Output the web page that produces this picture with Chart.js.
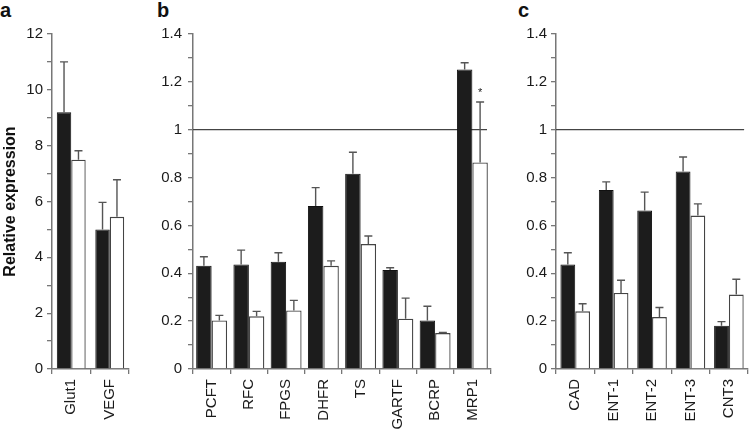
<!DOCTYPE html>
<html>
<head>
<meta charset="utf-8">
<script src="https://cdn.jsdelivr.net/npm/chart.js@4.4.1/dist/chart.umd.min.js"></script>
<style>
  body { margin: 0; background: #fff; width: 752px; height: 437px; position: relative; overflow: hidden;
         font-family: "Liberation Sans", Arial, sans-serif; }
  canvas { position: absolute; top: 0; }
  .tag { position: absolute; top: 0; font-weight: bold; font-size: 20px; line-height: 1; color: #111; }
</style>
</head>
<body>
<div class="tag" style="left:0">a</div>
<div class="tag" style="left:157px">b</div>
<div class="tag" style="left:518px">c</div>
<canvas id="chart-a" width="140" height="437" style="left:0"></canvas>
<canvas id="chart-b" width="360" height="437" style="left:140px"></canvas>
<canvas id="chart-c" width="252" height="437" style="left:500px"></canvas>
<script>
  // panel a
  const aLabels = ['Glut1', 'VEGF'];
  const aBlack = [9.2, 5.0];
  const aBlackErr = [1.8, 0.97];
  const aWhite = [7.5, 5.45];
  const aWhiteErr = [0.32, 1.33];

  // panel b
  const bLabels = ['PCFT', 'RFC', 'FPGS', 'DHFR', 'TS', 'GARTF', 'BCRP', 'MRP1'];
  const bBlack = [0.431, 0.437, 0.448, 0.681, 0.816, 0.414, 0.203, 1.252];
  const bBlackErr = [0.038, 0.06, 0.038, 0.077, 0.09, 0.009, 0.059, 0.028];
  const bWhite = [0.203, 0.22, 0.245, 0.431, 0.522, 0.21, 0.15, 0.863];
  const bWhiteErr = [0.021, 0.021, 0.042, 0.021, 0.034, 0.086, 0.003, 0.253];
  const bWhiteMarks = ['', '', '', '', '', '', '', '*'];

  // panel c
  const cLabels = ['CAD', 'ENT-1', 'ENT-2', 'ENT-3', 'CNT3'];
  const cBlack = [0.437, 0.748, 0.662, 0.825, 0.181];
  const cBlackErr = [0.049, 0.034, 0.077, 0.061, 0.017];
  const cWhite = [0.241, 0.318, 0.217, 0.641, 0.311];
  const cWhiteErr = [0.032, 0.053, 0.04, 0.049, 0.064];

  const AXIS_COLOR = '#777';
  const TEXT_COLOR = '#1a1a1a';

  Chart.defaults.font.family = '"Liberation Sans", Arial, sans-serif';
  Chart.defaults.font.size = 15;
  Chart.defaults.color = TEXT_COLOR;

  const errorBars = {
    id: 'errorBars',
    afterDatasetsDraw(chart) {
      const ctx = chart.ctx;
      const y = chart.scales.y;
      ctx.save();
      ctx.strokeStyle = '#555';
      ctx.lineWidth = 1.4;
      chart.data.datasets.forEach((ds, i) => {
        chart.getDatasetMeta(i).data.forEach((bar, j) => {
          const top = y.getPixelForValue(ds.data[j] + ds.errors[j]);
          ctx.beginPath();
          ctx.moveTo(bar.x, bar.y);
          ctx.lineTo(bar.x, top);
          ctx.moveTo(bar.x - 4, top);
          ctx.lineTo(bar.x + 4, top);
          ctx.stroke();
          if (ds.marks && ds.marks[j]) {
            ctx.fillStyle = TEXT_COLOR;
            ctx.font = '11px "Liberation Sans", Arial, sans-serif';
            ctx.textAlign = 'center';
            ctx.fillText(ds.marks[j], bar.x, top - 6);
          }
        });
      });
      ctx.restore();
    }
  };

  const refLine = {
    id: 'refLine',
    beforeDatasetsDraw(chart, args, opts) {
      const {ctx, chartArea} = chart;
      const py = chart.scales.y.getPixelForValue(opts.value);
      ctx.save();
      ctx.strokeStyle = '#444';
      ctx.lineWidth = 1.2;
      ctx.beginPath();
      ctx.moveTo(chartArea.left, py);
      ctx.lineTo(chartArea.right - 4, py);
      ctx.stroke();
      ctx.restore();
    }
  };

  function formatTick(v) {
    return String(Math.round(v * 10) / 10);
  }

  function drawPanel(id, panel) {
    const yScale = {
      min: 0,
      max: panel.max,
      ticks: {
        stepSize: panel.step,
        maxTicksLimit: 30,
        autoSkip: false,
        padding: panel.tickPadding,
        callback: (v, i) => (i % 2 ? '' : formatTick(v))
      },
      grid: { drawOnChartArea: false, drawTicks: true, tickLength: 5, color: AXIS_COLOR, lineWidth: 1.3 },
      border: { display: true, color: AXIS_COLOR, width: 1.5 },
      afterFit: s => { s.width = panel.yWidth; }
    };
    if (panel.title) {
      yScale.title = {
        display: true,
        text: panel.title,
        color: '#111',
        font: { size: 16, weight: 'bold' },
        padding: { top: 1, bottom: 0 }
      };
    }

    new Chart(document.getElementById(id), {
      type: 'bar',
      data: {
        labels: panel.labels,
        datasets: [
          {
            data: panel.black,
            errors: panel.blackErr,
            backgroundColor: '#1c1c1c',
            borderColor: '#111',
            borderWidth: 1
          },
          {
            data: panel.white,
            errors: panel.whiteErr,
            marks: panel.marks,
            backgroundColor: '#fff',
            borderColor: '#444',
            borderWidth: 1.3
          }
        ]
      },
      options: {
        responsive: false,
        animation: false,
        layout: { padding: { top: 34, right: panel.right, bottom: 0, left: 0 } },
        datasets: {
          bar: { barPercentage: 1, categoryPercentage: panel.catPct }
        },
        scales: {
          x: {
            ticks: { minRotation: 90, maxRotation: 90, autoSkip: false, padding: 5 },
            grid: { offset: true, drawOnChartArea: false, drawTicks: true, tickLength: 5, color: AXIS_COLOR, lineWidth: 1.3 },
            border: { display: true, color: AXIS_COLOR, width: 1.5 },
            afterFit: s => { s.height = 68; }
          },
          y: yScale
        },
        plugins: {
          legend: { display: false },
          tooltip: { enabled: false },
          refLine: panel.ref ? { value: panel.ref } : false
        }
      },
      plugins: [refLine, errorBars]
    });
  }

  drawPanel('chart-a', {
    labels: aLabels, black: aBlack, blackErr: aBlackErr, white: aWhite, whiteErr: aWhiteErr,
    max: 12, step: 1, yWidth: 52, right: 11, catPct: 0.75, tickPadding: 4,
    title: 'Relative expression'
  });

  drawPanel('chart-b', {
    labels: bLabels, black: bBlack, blackErr: bBlackErr, white: bWhite, whiteErr: bWhiteErr,
    marks: bWhiteMarks,
    max: 1.4, step: 0.1, yWidth: 53, right: 9, catPct: 0.83, tickPadding: 6, ref: 1
  });

  drawPanel('chart-c', {
    labels: cLabels, black: cBlack, blackErr: cBlackErr, white: cWhite, whiteErr: cWhiteErr,
    max: 1.4, step: 0.1, yWidth: 56, right: 1, catPct: 0.77, tickPadding: 4, ref: 1
  });
</script>
</body>
</html>
